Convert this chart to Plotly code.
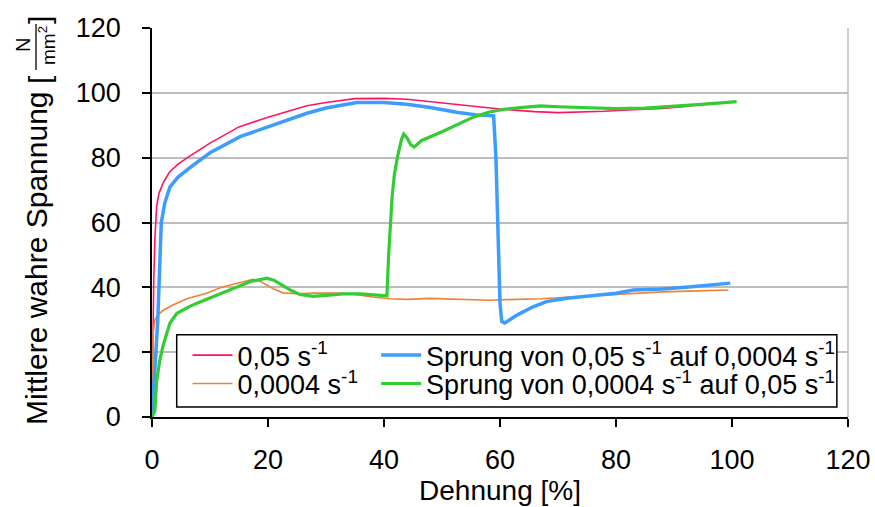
import plotly.graph_objects as go

# Dehnung [%] / Mittlere wahre Spannung [N/mm²]
strain_fast = [0, 0.15, 0.3, 0.5, 0.8, 1.2, 2, 3, 4.5, 6.5, 10, 15, 20, 26.7, 30, 35, 40,
               44, 48, 52.5, 56, 60, 63, 66, 70, 74, 78, 83, 88, 92, 97]
stress_fast = [0, 25, 42, 55, 65, 69, 72.5, 75.5, 78, 80.5, 84.5, 89.5, 92.5, 96, 97, 98.2, 98.3,
               98, 97.2, 96.3, 95.6, 95, 94.6, 94.2, 93.9, 94, 94.3, 94.8, 95.2, 95.8, 97]

strain_slow = [0, 0.1, 0.2, 0.5, 1, 2, 3.7, 6, 9.4, 12, 15.2, 17.4, 18.5, 19.8, 21, 22.6, 25, 28,
               32, 35, 38, 41, 44, 48, 52, 55, 58, 61, 64, 67, 70, 74, 77, 82, 88, 94, 99.4]
stress_slow = [0, 12, 26, 30, 31.5, 33, 34.6, 36.5, 38.2, 40, 41.5, 42.5, 42, 40.7, 39.5, 38.3, 38,
               38.2, 38.2, 37.8, 37, 36.5, 36.3, 36.6, 36.3, 36.2, 36, 36.2, 36.3, 36.5, 36.8,
               37.2, 37.6, 38.1, 38.6, 38.9, 39.2]

strain_fast_slow = [0, 0.5, 1.0, 1.3, 1.6, 2.2, 3.1, 4.5, 6.6, 10, 15.2, 20, 26.7, 30, 35.3, 40,
                    43.9, 48, 52.5, 56, 58.9, 59.3, 60.0, 60.3, 60.8, 61.5, 63, 65.7, 68, 71.5,
                    75, 80, 83, 88, 93, 97, 99.7]
stress_fast_slow = [0, 14, 30, 45, 60, 66, 71, 74, 77, 81.5, 86.5, 89.5, 93.7, 95.3, 97, 97,
                    96.5, 95.5, 94, 93.2, 92.9, 80, 35, 29.5, 29, 29.8, 31.5, 34, 35.6, 36.6,
                    37.2, 38.2, 39.2, 39.5, 40.2, 40.8, 41.3]

strain_slow_fast = [0, 0.5, 0.8, 1.3, 1.9, 3.1, 4.3, 6.6, 9, 12.3, 15, 17, 19.8, 21, 22.3, 24,
                    25.5, 27.8, 30, 33, 36, 38.5, 40.5, 40.8, 41.1, 41.4, 41.8, 42.3, 43, 43.4,
                    44, 44.6, 45.2, 45.8, 46.5, 50, 53, 55.4, 58, 61, 64, 67, 70, 75, 80, 85,
                    91.6, 96, 100.8]
stress_slow_fast = [0, 2, 11, 17, 22, 29, 32, 34.2, 36, 38.5, 40.5, 41.8, 42.8, 42.2, 40.8, 39,
                    37.8, 37.2, 37.5, 38, 38, 37.8, 37.4, 50, 60, 68, 75, 80, 85.5, 87.3,
                    86, 84, 83.3, 84.3, 85.3, 88, 90.5, 92.5, 94, 95, 95.5, 96, 95.7, 95.5, 95.1,
                    95.3, 96, 96.6, 97.3]

x_ticks = [0, 20, 40, 60, 80, 100, 120]
y_ticks = [0, 20, 40, 60, 80, 100, 120]

FONT = "Liberation Sans, Arial, sans-serif"

series = [
    ("0,05 s<sup>-1</sup>", strain_fast, stress_fast, "#FF1464", 1.6, "legend"),
    ("0,0004 s<sup>-1</sup>", strain_slow, stress_slow, "#EE8236", 1.6, "legend2"),
    ("Sprung von 0,05 s<sup>-1</sup> auf 0,0004 s<sup>-1</sup>", strain_fast_slow,
     stress_fast_slow, "#3D9CFF", 3.5, "legend3"),
    ("Sprung von 0,0004 s<sup>-1</sup> auf 0,05 s<sup>-1</sup>", strain_slow_fast,
     stress_slow_fast, "#33CC33", 3.2, "legend4"),
]

fig = go.Figure()
for name, xs, ys, color, width, leg in series:
    fig.add_trace(go.Scatter(x=xs, y=ys, mode="lines", name=name,
                             line=dict(color=color, width=width),
                             legend=leg, showlegend=True))

leg_common = dict(xanchor="left", yanchor="middle", bgcolor="rgba(0,0,0,0)",
                  borderwidth=0, itemwidth=40,
                  font=dict(family=FONT, size=27, color="black"))
fig.update_layout(
    legend=dict(x=0.051, y=0.158, **leg_common),
    legend2=dict(x=0.051, y=0.085, **leg_common),
    legend3=dict(x=0.322, y=0.158, **leg_common),
    legend4=dict(x=0.322, y=0.085, **leg_common),
)

# legend frame
fig.add_shape(type="rect", xref="paper", yref="paper",
              x0=0.0355, x1=0.984, y0=0.0257, y1=0.2116,
              line=dict(color="black", width=1.5), fillcolor="white", layer="above")
# right plot border
fig.add_shape(type="line", xref="paper", yref="paper", x0=1, x1=1, y0=0, y1=1,
              line=dict(color="#BEBEBE", width=1.5))

fig.update_xaxes(range=[0, 120], tickvals=x_ticks, ticktext=[str(v) for v in x_ticks],
                 showgrid=False, zeroline=False, showline=True, linecolor="black",
                 linewidth=1.5, ticks="outside", ticklen=8, tickwidth=1.5,
                 tickcolor="black", ticklabelstandoff=10, automargin=False,
                 tickfont=dict(family=FONT, size=27, color="black"),
                 title=dict(text="Dehnung [%]", standoff=2,
                            font=dict(family=FONT, size=28, color="black")))
fig.update_yaxes(range=[0, 120], tickvals=y_ticks, ticktext=[str(v) for v in y_ticks],
                 showgrid=True, gridcolor="#BEBEBE", gridwidth=1.5, zeroline=False,
                 showline=True, linecolor="black", linewidth=1.5, ticks="outside",
                 ticklen=8, tickwidth=1.5, tickcolor="black", ticklabelstandoff=16,
                 automargin=False,
                 tickfont=dict(family=FONT, size=27, color="black"))

# y-axis title with stacked unit fraction
def px_x(px):
    return (px - 152) / 696

def px_y(py):
    return (417 - py) / 389

title_font = dict(family=FONT, size=30, color="black")
fig.add_annotation(text="Mittlere wahre Spannung", textangle=-90, xref="paper", yref="paper",
                   x=px_x(36), y=px_y(258), showarrow=False, font=title_font,
                   xanchor="center", yanchor="middle")
fig.add_annotation(text="[", textangle=-90, xref="paper", yref="paper",
                   x=px_x(39), y=px_y(80), showarrow=False, font=title_font,
                   xanchor="center", yanchor="middle")
fig.add_annotation(text="]", textangle=-90, xref="paper", yref="paper",
                   x=px_x(39), y=px_y(20), showarrow=False, font=title_font,
                   xanchor="center", yanchor="middle")
fig.add_annotation(text="N", textangle=-90, xref="paper", yref="paper",
                   x=px_x(23), y=px_y(45), showarrow=False,
                   font=dict(family=FONT, size=20, color="black"),
                   xanchor="center", yanchor="middle")
fig.add_annotation(text="mm<sup>2</sup>", textangle=-90, xref="paper", yref="paper",
                   x=px_x(47), y=px_y(46), showarrow=False,
                   font=dict(family=FONT, size=19, color="black"),
                   xanchor="center", yanchor="middle")
fig.add_shape(type="line", xref="paper", yref="paper", x0=px_x(36), x1=px_x(36),
              y0=px_y(24), y1=px_y(70), line=dict(color="black", width=1.3))

fig.update_layout(width=875, height=507, margin=dict(l=152, r=27, t=28, b=90),
                  plot_bgcolor="white", paper_bgcolor="white",
                  font=dict(family=FONT, color="black"))

fig.write_html("out.html")
